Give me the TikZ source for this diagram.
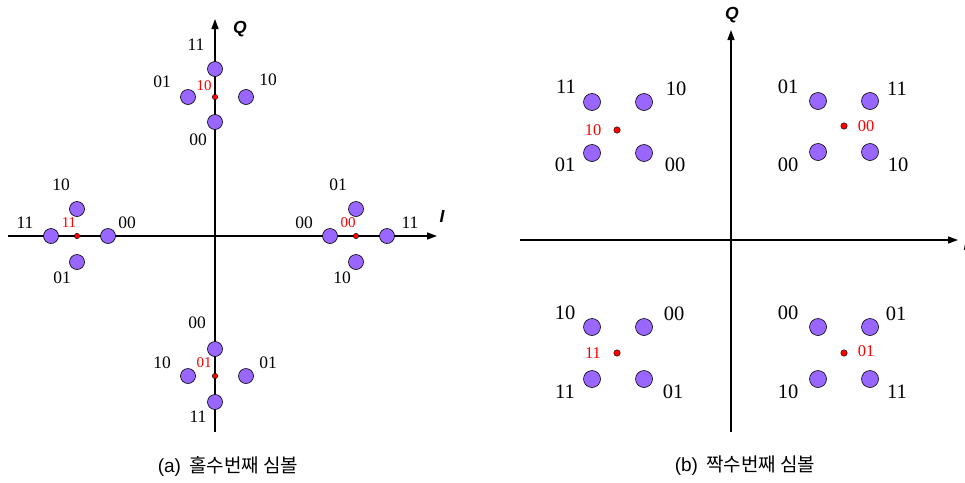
\documentclass[tikz,border=0pt]{standalone}
\usepackage{fontspec}
\usetikzlibrary{arrows.meta}
\newfontfamily\tnr{Liberation Serif}
\newfontfamily\arl{Liberation Sans}
\newfontfamily\kr{Noto Sans CJK KR}
\definecolor{sym}{HTML}{9966FF}
\definecolor{redlbl}{HTML}{FF0000}
\tikzset{
  axis/.style={line width=1.4pt,-{Triangle[length=10pt,width=7pt]}},
  axlbl/.style={font=\arl\fontsize{17.5}{17.5}\selectfont\bfseries\itshape,inner sep=0},
  symA/.style={circle,draw=black,line width=0.6pt,fill=sym,minimum size=15pt,inner sep=0},
  symB/.style={circle,draw=black,line width=0.6pt,fill=sym,minimum size=17pt,inner sep=0},
  ctrA/.style={circle,draw=black,line width=0.4pt,fill=red,minimum size=5.5pt,inner sep=0},
  ctrB/.style={circle,draw=black,line width=0.4pt,fill=red,minimum size=6.5pt,inner sep=0},
  lblA/.style={font=\tnr\fontsize{17.5}{17.5}\selectfont,inner sep=0},
  lblB/.style={font=\tnr\fontsize{20.5}{20.5}\selectfont,inner sep=0},
  rlA/.style={font=\tnr\fontsize{15}{15}\selectfont,text=redlbl,inner sep=0},
  rlB/.style={font=\tnr\fontsize{16.5}{16.5}\selectfont,text=redlbl,inner sep=0},
  captxt/.style={inner sep=0}
}
\begin{document}
\begin{tikzpicture}[x=1pt,y=-1pt]
\useasboundingbox (0,0) rectangle (965,482);
% ---------- panel (a) ----------
\coordinate (aQs) at (215,432); \coordinate (aQe) at (215,19);
\coordinate (aIs) at (8,236);   \coordinate (aIe) at (437,236);
\draw[axis] (aQs) -- (aQe);
\draw[axis] (aIs) -- (aIe);
\node[axlbl] (aQ) at (240,29) {Q};
\node[axlbl] (aI) at (442,216) {I};
% top cluster
\node[ctrA] (atc) at (215,97) {};
\node[symA] (at1) at (215,69) {};
\node[symA] (at2) at (215,122) {};
\node[symA] (at3) at (188,97) {};
\node[symA] (at4) at (246,97) {};
\node[lblA] (atl1) at (196,45) {11};
\node[lblA] (atl2) at (162,82) {01};
\node[rlA]  (atl3) at (204,86) {10};
\node[lblA] (atl4) at (268,80) {10};
\node[lblA] (atl5) at (198,140) {00};
% left cluster
\node[ctrA] (alc) at (77,236) {};
\node[symA] (al1) at (51,236) {};
\node[symA] (al2) at (108,236) {};
\node[symA] (al3) at (77,209) {};
\node[symA] (al4) at (77,262) {};
\node[lblA] (all1) at (61,185) {10};
\node[lblA] (all2) at (25,223) {11};
\node[rlA]  (all3) at (69,223) {11};
\node[lblA] (all4) at (127,223) {00};
\node[lblA] (all5) at (62,278) {01};
% right cluster
\node[ctrA] (arc) at (356,236) {};
\node[symA] (ar1) at (330,236) {};
\node[symA] (ar2) at (387,236) {};
\node[symA] (ar3) at (356,209) {};
\node[symA] (ar4) at (356,262) {};
\node[lblA] (arl1) at (338,185) {01};
\node[lblA] (arl2) at (304,223) {00};
\node[rlA]  (arl3) at (348,223) {00};
\node[lblA] (arl4) at (410,223) {11};
\node[lblA] (arl5) at (342,278) {10};
% bottom cluster
\node[ctrA] (abc) at (215,376) {};
\node[symA] (ab1) at (215,349) {};
\node[symA] (ab2) at (215,402) {};
\node[symA] (ab3) at (188,376) {};
\node[symA] (ab4) at (246,376) {};
\node[lblA] (abl1) at (197,323) {00};
\node[lblA] (abl2) at (162,363) {10};
\node[rlA]  (abl3) at (204,363) {01};
\node[lblA] (abl4) at (268,363) {01};
\node[lblA] (abl5) at (198,417) {11};
\node[captxt] (capa) at (228,466) {{\arl\fontsize{19}{19}\selectfont(a)}\hspace{8pt}{\kr\fontsize{19}{19}\selectfont 홀수번째 심볼}};
% ---------- panel (b) ----------
\coordinate (bQs) at (731,432); \coordinate (bQe) at (731,30);
\coordinate (bIs) at (520,240); \coordinate (bIe) at (958,240);
\draw[axis] (bQs) -- (bQe);
\draw[axis] (bIs) -- (bIe);
\node[axlbl] (bQ) at (732,15) {Q};
\node[axlbl] (bI) at (966,244) {I};
% upper-left
\node[ctrB] (b1c) at (617,130) {};
\node[symB] (b11) at (592,102) {};
\node[symB] (b12) at (644,102) {};
\node[symB] (b13) at (592,153) {};
\node[symB] (b14) at (644,153) {};
\node[lblB] (b1l1) at (566,87) {11};
\node[lblB] (b1l2) at (676,89) {10};
\node[rlB]  (b1l3) at (593,130) {10};
\node[lblB] (b1l4) at (565,165) {01};
\node[lblB] (b1l5) at (675,165) {00};
% upper-right
\node[ctrB] (b2c) at (844,126) {};
\node[symB] (b21) at (818,101) {};
\node[symB] (b22) at (870,101) {};
\node[symB] (b23) at (818,152) {};
\node[symB] (b24) at (870,152) {};
\node[lblB] (b2l1) at (788,87) {01};
\node[lblB] (b2l2) at (897,89) {11};
\node[rlB]  (b2l3) at (866,126) {00};
\node[lblB] (b2l4) at (788,165) {00};
\node[lblB] (b2l5) at (898,165) {10};
% lower-left
\node[ctrB] (b3c) at (617,353) {};
\node[symB] (b31) at (592,327) {};
\node[symB] (b32) at (644,327) {};
\node[symB] (b33) at (592,379) {};
\node[symB] (b34) at (644,379) {};
\node[lblB] (b3l1) at (565,313) {10};
\node[lblB] (b3l2) at (674,314) {00};
\node[rlB]  (b3l3) at (593,353) {11};
\node[lblB] (b3l4) at (565,392) {11};
\node[lblB] (b3l5) at (673,392) {01};
% lower-right
\node[ctrB] (b4c) at (844,353) {};
\node[symB] (b41) at (818,327) {};
\node[symB] (b42) at (870,327) {};
\node[symB] (b43) at (818,379) {};
\node[symB] (b44) at (870,379) {};
\node[lblB] (b4l1) at (788,313) {00};
\node[lblB] (b4l2) at (896,314) {01};
\node[rlB]  (b4l3) at (866,351) {01};
\node[lblB] (b4l4) at (788,392) {10};
\node[lblB] (b4l5) at (897,392) {11};
\node[captxt] (capb) at (745,466) {{\arl\fontsize{19}{19}\selectfont(b)}\hspace{8pt}{\kr\fontsize{19}{19}\selectfont 짝수번째 심볼}};
\end{tikzpicture}
\end{document}
